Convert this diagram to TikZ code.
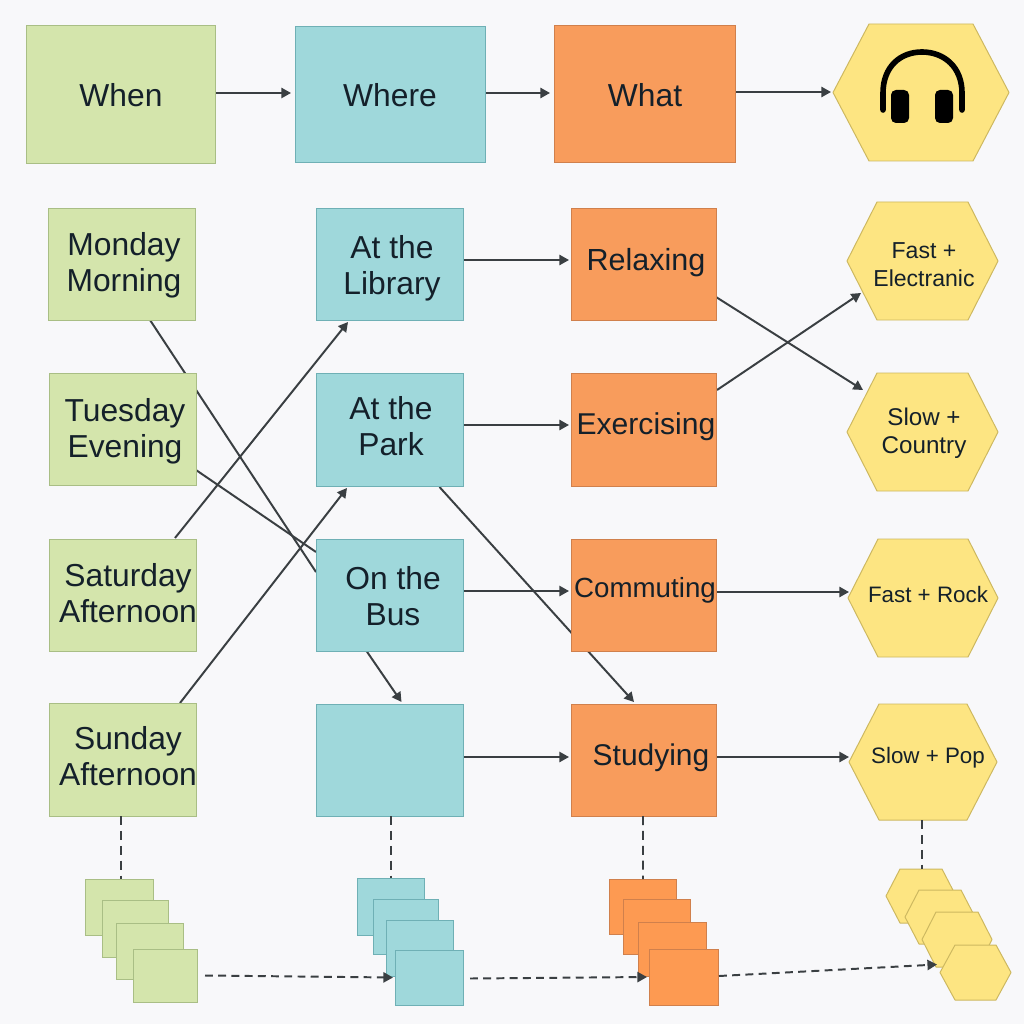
\documentclass[tikz,border=0pt]{standalone}
\usepackage{fontspec}
\setmainfont{Liberation Sans}
\usetikzlibrary{arrows.meta}
\pgfdeclarelayer{links}
\pgfsetlayers{links,main}
\newlength\uu
\setlength\uu{0.025cm}
\definecolor{bgc}{HTML}{F8F8FA}
\definecolor{gf}{HTML}{D4E5AC}\definecolor{gd}{HTML}{A9BE85}
\definecolor{cf}{HTML}{9FD8DB}\definecolor{cd}{HTML}{6FB0B5}
\definecolor{of}{HTML}{F89C5C}\definecolor{od}{HTML}{D0804C}
\definecolor{osf}{HTML}{FD9A52}
\definecolor{yf}{HTML}{FDE582}\definecolor{yd}{HTML}{CDB860}
\definecolor{ink}{HTML}{3A3F42}
\definecolor{txtc}{HTML}{14202A}
\tikzset{
 x=0.025cm,y=-0.025cm,
 base/.style={rectangle,inner sep=0pt,outer sep=0pt,line width=0.7pt},
 greenbox/.style={base,draw=gd,fill=gf},
 cyanbox/.style={base,draw=cd,fill=cf},
 orangebox/.style={base,draw=od,fill=of},
 orangestack/.style={base,draw=od,fill=osf},
 hexhold/.style={base},
 hexline/.style={draw=yd,fill=yf,line width=0.7pt,line join=round},
 link/.style={draw=ink,line width=1.4pt},
 arrowlink/.style={link,-{Triangle[length=6.8pt,width=7.2pt]}},
 stackdash/.style={draw=ink,line width=1.4pt,dash pattern=on 6.4pt off 4.2pt},
 flowdash/.style={draw=ink,line width=1.4pt,dash pattern=on 5.6pt off 3.8pt,-{Triangle[length=6.8pt,width=7.2pt]}},
 big/.style={inner sep=0pt,align=center,text=txtc,font=\fontsize{22.6}{25.6}\selectfont},
 sized/.style={inner sep=0pt,align=center,text=txtc,font=\fontsize{#1}{25.6}\selectfont},
 small/.style={inner sep=0pt,align=center,text=txtc,font=\fontsize{16.4}{20}\selectfont},
 smallsized/.style={inner sep=0pt,align=center,text=txtc,font=\fontsize{#1}{20}\selectfont},
}
% style, name, x0, y0, x1, y1
\newcommand{\boxat}[6]{\node[#1,minimum width={(#5-#3)*\uu},minimum height={(#6-#4)*\uu}] (#2) at ({(#3+#5)/2},{(#4+#6)/2}) {};}
% name, x0, y0, x1, y1, inset
\newcommand{\hexat}[6]{\node[hexhold,minimum width={(#4-#2)*\uu},minimum height={(#5-#3)*\uu}] (#1) at ({(#2+#4)/2},{(#3+#5)/2}) {};
 \path[hexline] (#1.west) -- ([shift={(#6,0)}]#1.north west) -- ([shift={(-#6,0)}]#1.north east) -- (#1.east) -- ([shift={(-#6,0)}]#1.south east) -- ([shift={(#6,0)}]#1.south west) -- cycle;}
\begin{document}
\begin{tikzpicture}
\useasboundingbox (0,0) rectangle (1024,1024);
\begin{pgfonlayer}{links}
\fill[bgc] (0,0) rectangle (1024,1024);
\end{pgfonlayer}
% header
\boxat{greenbox}{when}{26}{25}{215}{163}
\boxat{cyanbox}{where}{295}{26}{485}{162}
\boxat{orangebox}{what}{554}{25}{735}{162}
\hexat{hp}{833}{24}{1009}{161}{36}
\node[big] (whent) at (121,95) {When};
\node[big] (wheret) at (390,95) {Where};
\node[big] (whatt) at (645,95) {What};
% headphones icon
\draw[black,line width=4pt,line cap=round] (883,110) -- (883,93) .. controls (883,67) and (900,52) .. (922,52) .. controls (944,52) and (962,67) .. (962,93) -- (962,110);
\fill[black,rounded corners=3.5pt] (891,90) rectangle (909,123);
\fill[black,rounded corners=3.5pt] (935,90) rectangle (953,123);
% rows
\boxat{greenbox}{mon}{48}{208}{195}{320}
\boxat{greenbox}{tue}{49}{373}{196}{485}
\boxat{greenbox}{sat}{49}{539}{196}{651}
\boxat{greenbox}{sun}{49}{703}{196}{816}
\boxat{cyanbox}{lib}{316}{208}{463}{320}
\boxat{cyanbox}{park}{316}{373}{463}{486}
\boxat{cyanbox}{bus}{316}{539}{463}{651}
\boxat{cyanbox}{blank}{316}{704}{463}{816}
\boxat{orangebox}{relax}{571}{208}{716}{320}
\boxat{orangebox}{exer}{571}{373}{716}{486}
\boxat{orangebox}{comm}{571}{539}{716}{651}
\boxat{orangebox}{study}{571}{704}{716}{816}
\hexat{fe}{847}{202}{998}{320}{30}
\hexat{sc}{847}{373}{998}{491}{30}
\hexat{fr}{848}{539}{998}{657}{30}
\hexat{sp}{849}{704}{997}{820}{30}
\node[big] (mont) at (124,265.5) {Monday\\Morning};
\node[big] (tuet) at (125,431) {Tuesday\\Evening};
\node[big] (satt) at (128,593) {Saturday\\Afternoon};
\node[big] (sunt) at (128,756) {Sunday\\Afternoon};
\node[big] (libt) at (392,268) {At the\\Library};
\node[big] (parkt) at (391,426) {At the\\Park};
\node[big] (bust) at (393,596) {On the\\Bus};
\node[sized=21.7] (relaxt) at (646,263) {Relaxing};
\node[sized=21.4] (exert) at (646,427) {Exercising};
\node[sized=19.7] (commt) at (645,590.5) {Commuting};
\node[sized=21.3] (studyt) at (651,757.5) {Studying};
\node[small] (fet) at (924,265) {Fast +\\Electranic};
\node[smallsized=17.2] (sct) at (924,433) {Slow +\\Country};
\node[smallsized=15.9] (frt) at (928,595) {Fast + Rock};
\node[smallsized=15.9] (spt) at (928,758) {Slow + Pop};
% stacks
\boxat{greenbox}{g1}{85}{879}{153}{935}
\boxat{greenbox}{g2}{102}{900}{168}{957}
\boxat{greenbox}{g3}{116}{923}{183}{979}
\boxat{greenbox}{g4}{133}{949}{197}{1002}
\boxat{cyanbox}{c1}{357}{878}{424}{935}
\boxat{cyanbox}{c2}{373}{899}{438}{954}
\boxat{cyanbox}{c3}{386}{920}{453}{976}
\boxat{cyanbox}{c4}{395}{950}{463}{1005}
\boxat{orangestack}{o1}{609}{879}{676}{934}
\boxat{orangestack}{o2}{623}{899}{690}{954}
\boxat{orangestack}{o3}{638}{922}{706}{976}
\boxat{orangestack}{o4}{649}{949}{718}{1005}
\hexat{y1}{886}{869}{956}{923}{14}
\hexat{y2}{905}{890}{975}{944}{14}
\hexat{y3}{922}{912}{992}{967}{14}
\hexat{y4}{940}{945}{1011}{1000}{15}
% connectors drawn behind the shapes
\begin{pgfonlayer}{links}
\draw[arrowlink] ([shift={(0,-1)}]when.east) -- ([shift={(76,-1)}]when.east);
\draw[arrowlink] ([shift={(0,-1)}]where.east) -- ([shift={(65,-1)}]where.east);
\draw[arrowlink] ([shift={(0,-1.5)}]what.east) -- ([shift={(-2,-0.5)}]hp.west);
\draw[arrowlink] ([shift={(0,-4)}]lib.east) -- ([shift={(-2,-4)}]relax.west);
\draw[arrowlink] ([shift={(0,-4.5)}]park.east) -- ([shift={(-2,-4.5)}]exer.west);
\draw[arrowlink] ([shift={(0,-4)}]bus.east) -- ([shift={(-2,-4)}]comm.west);
\draw[arrowlink] ([shift={(0,-3)}]blank.east) -- ([shift={(-2,-3)}]study.west);
\draw[arrowlink] ([shift={(0,-3)}]comm.east) -- ([shift={(1,-6)}]fr.west);
\draw[arrowlink] ([shift={(0,-3)}]study.east) -- ([shift={(0,-5)}]sp.west);
\draw[link] ([shift={(-45,0)}]mon.south east) -- ([shift={(0,-23)}]bus.west);
\draw[link] ([shift={(0,41)}]tue.east) -- ([shift={(0,-43)}]bus.west);
\draw[arrowlink] ([shift={(-21,-1)}]sat.north east) -- ([shift={(32,2)}]lib.south west);
\draw[arrowlink] ([shift={(57.5,0)}]sun.north) -- ([shift={(31,2)}]park.south west);
\draw[arrowlink] ([shift={(50,1)}]park.south) -- ([shift={(-9.5,-2)}]study.north);
\draw[arrowlink] ([shift={(-23,0)}]bus.south) -- ([shift={(12,-2)}]blank.north);
\draw[arrowlink] ([shift={(0,-23)}]relax.south east) -- ([shift={(16,-42)}]sc.west);
\draw[arrowlink] ([shift={(1,17)}]exer.north east) -- ([shift={(14,32)}]fe.west);
\end{pgfonlayer}
% dashed connectors
\draw[stackdash] ([shift={(-1.5,0)}]sun.south) -- ([shift={(2,0)}]g1.north);
\draw[stackdash] ([shift={(1.5,0)}]blank.south) -- ([shift={(0.5,0)}]c1.north);
\draw[stackdash] ([shift={(-0.5,0)}]study.south) -- ([shift={(0.5,0)}]o1.north);
\draw[stackdash] ([shift={(-1,0)}]sp.south) -- ([shift={(1,0)}]y1.north);
\draw[flowdash] ([shift={(8,0)}]g4.east) -- ([shift={(-2,0)}]c4.west);
\draw[flowdash] ([shift={(7,1)}]c4.east) -- ([shift={(-2,0)}]o4.west);
\draw[flowdash] ([shift={(1,-1)}]o4.east) -- ([shift={(-3,-8)}]y4.west);
\end{tikzpicture}
\end{document}
